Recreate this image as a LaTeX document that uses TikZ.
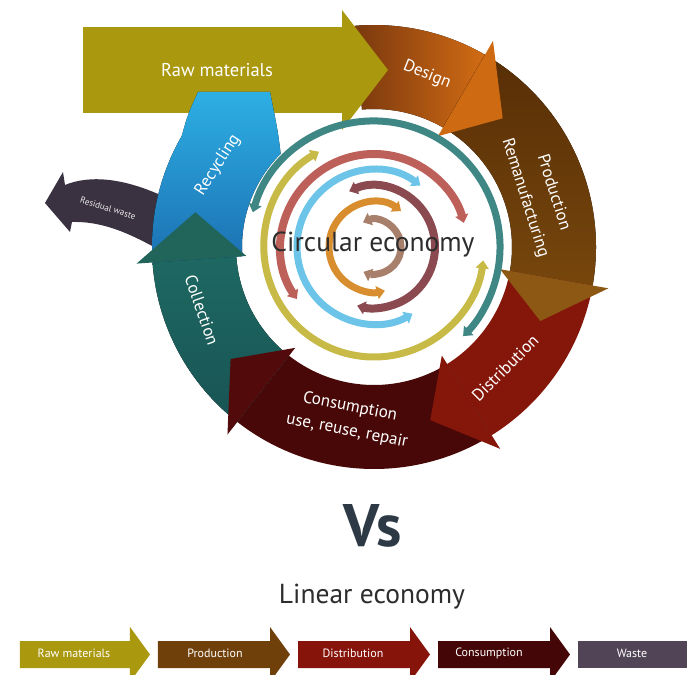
\documentclass[tikz,border=0pt]{standalone}
\usepackage{fontspec}
\setmainfont{PT Sans}
\usetikzlibrary{arrows.meta}
\definecolor{rawC}{RGB}{170,152,14}
\definecolor{desL}{RGB}{122,56,14}
\definecolor{desR}{RGB}{210,108,20}
\definecolor{desH}{RGB}{206,106,18}
\definecolor{proT}{RGB}{88,46,6}
\definecolor{proB}{RGB}{118,70,12}
\definecolor{proH}{RGB}{140,88,20}
\definecolor{disC}{RGB}{132,22,10}
\definecolor{conC}{RGB}{72,8,8}
\definecolor{conH}{RGB}{82,10,10}
\definecolor{colT}{RGB}{30,104,98}
\definecolor{colB}{RGB}{24,84,84}
\definecolor{colH}{RGB}{32,100,90}
\definecolor{recT}{RGB}{45,175,228}
\definecolor{recB}{RGB}{28,112,178}
\definecolor{resC}{RGB}{58,50,64}
\definecolor{rTeal}{RGB}{63,135,132}
\definecolor{rYel}{RGB}{200,186,70}
\definecolor{rSal}{RGB}{189,96,90}
\definecolor{rBlue}{RGB}{108,197,232}
\definecolor{rMauve}{RGB}{138,74,80}
\definecolor{rOra}{RGB}{216,142,46}
\definecolor{rTan}{RGB}{167,127,107}
\definecolor{vsC}{RGB}{45,58,70}
\definecolor{txtC}{RGB}{45,45,45}
\definecolor{linRaw}{RGB}{170,152,14}
\definecolor{linPro}{RGB}{112,64,10}
\definecolor{linDis}{RGB}{135,20,10}
\definecolor{linCon}{RGB}{68,6,6}
\definecolor{linWas}{RGB}{80,68,86}
\begin{document}
\begin{tikzpicture}[x=1pt,y=1pt,
  ring/.style={line width=7pt,{Triangle[width=13pt,length=8pt]}-{Triangle[width=13pt,length=8pt]}},
  bandtxt/.style={text=white,font=\fontsize{17}{19}\selectfont,inner sep=0pt},
  lintxt/.style={text=white,font=\fontsize{12}{14}\selectfont,inner sep=0pt}]
\useasboundingbox (-374,-427) rectangle (313,247);
\fill[white] (-374,-427) rectangle (313,247);
% ---------- band bodies ----------
% Design
\fill[left color=desL,right color=desR] (95:138) arc[start angle=95,end angle=60,radius=138pt] -- (60:222) arc[start angle=60,end angle=95,radius=222pt] -- cycle;
% Production
\fill[top color=proT,bottom color=proB] (60:138) arc[start angle=60,end angle=-10,radius=138pt] -- (-10:222) arc[start angle=-10,end angle=60,radius=222pt] -- cycle;
% Distribution
\fill[disC] (-10:138) arc[start angle=-10,end angle=-58,radius=138pt] -- (-58:222) arc[start angle=-58,end angle=-10,radius=222pt] -- cycle;
% Consumption
\fill[conC] (-58:138) arc[start angle=-58,end angle=-128,radius=138pt] -- (-128:222) arc[start angle=-128,end angle=-58,radius=222pt] -- cycle;
% Collection
\fill[top color=colT,bottom color=colB] (-128:138) arc[start angle=-128,end angle=-176,radius=138pt] -- (-176:222) arc[start angle=-176,end angle=-128,radius=222pt] -- cycle;
% Residual waste
\fill[resC] (-329,44) -- (-311,75) -- (-309,62) .. controls (-285,72) and (-250,70) .. (-205,48)
  -- (-205,-8) .. controls (-235,8) and (-265,26) .. (-302,25) -- (-304,15) -- cycle;
% Raw materials bar
\fill[rawC] (-291,134) rectangle (-32,220);
% Recycling
\fill[top color=recT,bottom color=recB] (-176:132) arc[start angle=184,end angle=135,radius=132pt]
  .. controls (-96,115) .. (-104,155) -- (-176,155) .. controls (-186,133) .. (150:222)
  arc[start angle=150,end angle=184,radius=222pt] -- cycle;
% ---------- heads ----------
\fill[rawC] (-32,237) -- (14,177) -- (-32,117) -- cycle;
\fill[desH] (60:128) -- (60:238) -- (45:182) -- cycle;
\fill[proH] (-10:128) -- (-10:238) -- (-24:182) -- cycle;
\fill[disC] (-58:128) -- (-58:238) -- (-72:182) -- cycle;
\fill[conH] (-128:128) -- (-128:238) -- (-142:182) -- cycle;
\fill[colH] (-176:128) -- (-176:238) -- (-191:182) -- cycle;
% ---------- inner rings ----------
\draw[ring,rTeal] (164:126) arc[start angle=164,end angle=-45,radius=126pt];
\draw[ring,rYel] (120:110) arc[start angle=120,end angle=353,radius=110pt];
\draw[ring,rSal,line width=8pt] (214:93) arc[start angle=214,end angle=15,radius=93pt];
\draw[ring,rBlue] (53:77) arc[start angle=53,end angle=300,radius=77pt];
\draw[ring,rMauve,line width=8pt] (114:61) arc[start angle=114,end angle=-106,radius=61pt];
\draw[ring,rOra] (53:45) arc[start angle=53,end angle=284,radius=45pt];
\draw[ring,rTan] (114:27) arc[start angle=114,end angle=-113,radius=27pt];
% ---------- labels ----------
\node[bandtxt,font=\fontsize{18.5}{20}\selectfont] (lraw) at (-157,177) {Raw materials};
\node[bandtxt,rotate=-22] (ldes) at (53,172) {Design};
\node[bandtxt,rotate=-72.5] (lpro) at (181,55) {Production};
\node[bandtxt,rotate=-72.5] (lrem) at (151,49) {Remanufacturing};
\node[bandtxt,rotate=45] (ldis) at (131,-121) {Distribution};
\node[bandtxt,rotate=-11] (lcon) at (-24,-160) {Consumption};
\node[bandtxt,rotate=-11] (luse) at (-27,-184) {use, reuse, repair};
\node[bandtxt,rotate=-71] (lcol) at (-172,-63) {Collection};
\node[bandtxt,rotate=57] (lrec) at (-156,82) {Recycling};
\node[text=white!85!gray,font=\fontsize{9}{10}\selectfont,rotate=-17,inner sep=0pt] (lres) at (-266,39) {Residual waste};
\node[text=txtC,font=\fontsize{27.5}{30}\selectfont,inner sep=0pt] (lcirc) at (-1,2) {Circular economy};
\node[text=vsC,font=\bfseries\fontsize{60}{66}\selectfont,inner sep=0pt] (lvs) at (-1,-279) {Vs};
\node[text=txtC,font=\fontsize{27.5}{30}\selectfont,inner sep=0pt] (llin) at (-2,-350) {Linear economy};
% ---------- linear economy row ----------
\fill[linRaw] (-354,-394) -- (-244,-394) -- (-244,-380) -- (-224,-407.5) -- (-244,-435) -- (-244,-421) -- (-354,-421) -- cycle;
\fill[linPro] (-216,-394) -- (-104,-394) -- (-104,-380) -- (-84,-407.5) -- (-104,-435) -- (-104,-421) -- (-216,-421) -- cycle;
\fill[linDis] (-76,-394) -- (36,-394) -- (36,-380) -- (56,-407.5) -- (36,-435) -- (36,-421) -- (-76,-421) -- cycle;
\fill[linCon] (64,-394) -- (176,-394) -- (176,-380) -- (196,-407.5) -- (176,-435) -- (176,-421) -- (64,-421) -- cycle;
\fill[linWas] (204,-394) rectangle (313,-421);
\node[lintxt] (b1) at (-300,-406) {Raw materials};
\node[lintxt] (b2) at (-159,-406) {Production};
\node[lintxt] (b3) at (-21,-406) {Distribution};
\node[lintxt] (b4) at (115,-406) {Consumption};
\node[lintxt] (b5) at (258,-406) {Waste};
\end{tikzpicture}
\end{document}
